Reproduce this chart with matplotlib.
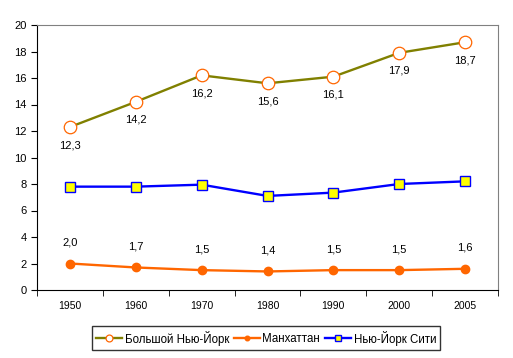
import numpy as np
import matplotlib.pyplot as plt

plt.rcParams['font.family'] = ['Liberation Sans', 'DejaVu Sans']

years = ['1950', '1960', '1970', '1980', '1990', '2000', '2005']
greater_ny = [12.3, 14.2, 16.2, 15.6, 16.1, 17.9, 18.7]
manhattan = [2.0, 1.7, 1.5, 1.4, 1.5, 1.5, 1.6]
nyc = [7.8, 7.8, 7.95, 7.1, 7.35, 8.0, 8.2]

fig = plt.figure(figsize=(5.13, 3.58), dpi=100)
ax = fig.add_axes([37 / 513, 1 - 290 / 358, 461 / 513, 265 / 358])

x = np.arange(len(years))
ax.plot(x, greater_ny, color='#808000', lw=1.7, marker='o', ms=9,
        mfc='white', mec='#FF6600', mew=0.9, label='Большой Нью-Йорк', zorder=3)
ax.plot(x, manhattan, color='#FF6600', lw=1.7, marker='o', ms=6,
        mfc='#FF6600', mec='#FF6600', label='Манхаттан', zorder=3)
ax.plot(x, nyc, color='#0000FF', lw=1.7, marker='s', ms=7.5,
        mfc='#FFFF00', mec='#0000FF', mew=1, label='Нью-Йорк Сити', zorder=3)

for xi, v in zip(x, greater_ny):
    ax.annotate(f'{v:.1f}'.replace('.', ','), (xi, v), xytext=(0, -13),
                textcoords='offset points', ha='center', va='center', fontsize=8)
for xi, v in zip(x, manhattan):
    ax.annotate(f'{v:.1f}'.replace('.', ','), (xi, v), xytext=(0, 15),
                textcoords='offset points', ha='center', va='center', fontsize=8)

ax.set_xlim(-0.5, len(years) - 0.5)
ax.set_ylim(0, 20)
ax.set_yticks(np.arange(0, 21, 2))
ax.set_xticks(x)
ax.set_xticklabels(years, fontsize=7.5)
ax.set_xticks(np.arange(-0.5, len(years), 1), minor=True)
ax.tick_params(axis='x', which='major', length=0, pad=8)
ax.tick_params(axis='x', which='minor', length=4, direction='out')
ax.tick_params(axis='y', labelsize=8, length=4, direction='out')
for s in ['top', 'right']:
    ax.spines[s].set_color('#808080')
for s in ['left', 'bottom']:
    ax.spines[s].set_color('black')

leg = fig.legend(loc='center', bbox_to_anchor=(266 / 513, 1 - 338 / 358), ncol=3,
                 fontsize=8.3, frameon=True, fancybox=False, edgecolor='black',
                 handlelength=2.3, handletextpad=0.2, columnspacing=0.4,
                 borderpad=0.35, markerscale=0.55)
leg.get_frame().set_linewidth(1)

fig.savefig('out.png', dpi=100)
